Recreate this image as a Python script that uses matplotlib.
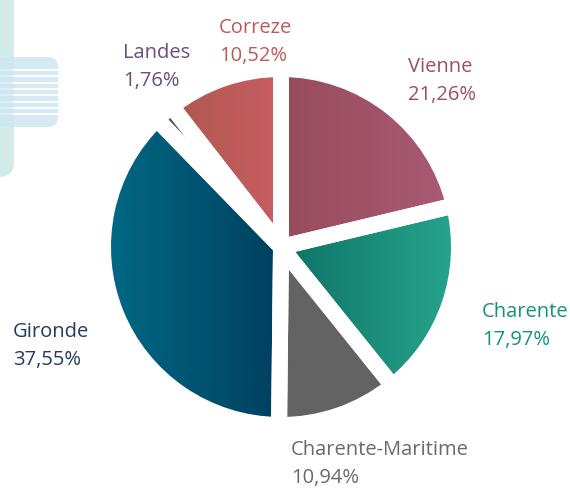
import numpy as np
import matplotlib.pyplot as plt
from matplotlib.colors import LinearSegmentedColormap
from matplotlib.patches import FancyBboxPatch

# data (clockwise from 12 o'clock)
regions = ['Vienne', 'Charente', 'Charente-Maritime', 'Gironde', 'Landes', 'Correze']
shares = [21.26, 17.97, 10.94, 37.55, 1.76, 10.52]

# gradient colours (left -> right) and label colours
left_cols = ['#974c5a', '#0e7264', '#636363', '#006a85', '#6a4a7a', '#ad594e']
right_cols = ['#aa5b76', '#27a68e', '#636363', '#003f60', '#6a4a7a', '#ca5c63']
text_cols = ['#a04f62', '#17907c', '#6a6a6a', '#263a5e', '#6f4b7e', '#c0585a']

# label anchors in image pixels (left, baseline of first line)
label_pos = [(408, 72), (482, 317), (291, 455), (13, 337), (123, 58), (219, 33)]

W, H = 570, 488
fig = plt.figure(figsize=(W / 100, H / 100), dpi=100)
ax = fig.add_axes([0, 0, 1, 1])

# decorative shape top-left
ax.add_patch(FancyBboxPatch((-40, H - 177), 54, 210,
                            boxstyle='round,pad=0,rounding_size=15',
                            fc='#d3ecea', ec='none', zorder=0))
ax.add_patch(FancyBboxPatch((-20, H - 127), 78, 70,
                            boxstyle='round,pad=0,rounding_size=10',
                            fc='#cfe7f2', ec='none', alpha=0.85, zorder=0.2))
for yy in [70, 76.3, 82.6, 88.9, 95.2, 101.5, 107.8, 114.1]:
    ax.plot([14, 58], [H - yy, H - yy], color='white', lw=1.3, zorder=0.5)
    ax.plot([0, 14], [H - yy, H - yy], color='white', lw=1.3, alpha=0.35, zorder=0.5)

cx, cy, r = 281, H - 247, 178
wedges, _ = ax.pie(shares, startangle=90, counterclock=False,
                   center=(cx, cy), radius=r,
                   wedgeprops=dict(fc='none', ec='white', lw=11.5))

for w, c0, c1 in zip(wedges, left_cols, right_cols):
    ext = w.get_path().get_extents()
    cmap = LinearSegmentedColormap.from_list('g', [c0, c1])
    grad = np.linspace(0, 1, 256).reshape(1, -1)
    im = ax.imshow(grad, cmap=cmap, extent=(ext.x0, ext.x1, ext.y0, ext.y1),
                   aspect='auto', zorder=0.8, interpolation='bicubic')
    im.set_clip_path(w)
    w.set_zorder(2)

for name, val, col, (x, y) in zip(regions, shares, text_cols, label_pos):
    pct = ('%.2f' % val).replace('.', ',') + '%'
    ax.text(x, H - y, name, color=col, fontsize=14.5, family='Open Sans',
            ha='left', va='baseline')
    ax.text(x, H - y - 28, pct, color=col, fontsize=14.5, family='Open Sans',
            ha='left', va='baseline')

ax.set_xlim(0, W)
ax.set_ylim(0, H)
ax.set_aspect('auto')
ax.axis('off')
fig.savefig('out.png', dpi=100, facecolor='white')
